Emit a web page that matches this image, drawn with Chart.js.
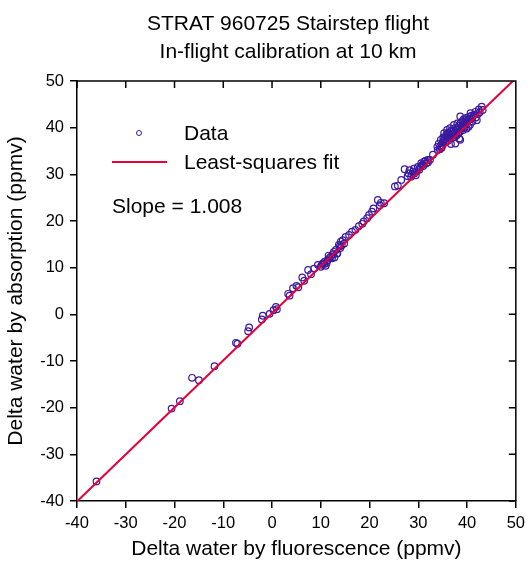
<!DOCTYPE html>
<html>
<head>
<meta charset="utf-8">
<script src="https://cdn.jsdelivr.net/npm/chart.js@4/dist/chart.umd.min.js"></script>
<style>
  body { margin: 0; background: #fff; }
</style>
</head>
<body>
<canvas id="calib" width="531" height="562"></canvas>
<script>
var titleLines = ['STRAT 960725 Stairstep flight', 'In-flight calibration at 10 km'];
var xTitle = 'Delta water by fluorescence (ppmv)';
var yTitle = 'Delta water by absorption (ppmv)';
var slopeText = 'Slope = 1.008';

// ppmv
var fluorescence = [-36.0, -20.6, -18.9, -16.4, -15.0, -11.8, -7.4, -7.1, -4.9, -4.7, -2.1, -1.9, -0.5, 0.3, 0.8, 1.0,
    3.3, 3.6, 4.3, 5.0, 5.4, 6.2, 6.6, 7.4, 8.0, 8.6, 9.4, 10.0, 10.4, 10.7, 11.0, 11.4, 11.8, 12.1, 12.5, 12.8,
    13.1, 13.4, 13.7, 14.0, 14.1, 14.5, 14.8, 15.1, 15.8, 16.4, 17.1, 17.8, 18.5, 18.8, 19.5, 19.9, 20.5, 20.8,
    21.7, 22.3, 22.1, 23.0,
    25.2, 25.8, 26.5, 27.2, 27.8, 28.2, 28.5, 28.9, 29.2, 29.5, 29.9, 30.2, 30.6, 31.0, 31.2, 31.6, 31.9, 32.4, 33.0,
    33.9, 34.2, 34.4, 34.6, 34.9, 35.1, 35.3, 35.5, 35.7, 35.9, 36.1, 36.3, 36.5, 36.7, 36.9, 37.1, 37.3, 37.5,
    37.6, 37.8, 38.0, 38.2, 38.4, 38.6, 38.6, 38.8, 39.0, 39.2, 39.4, 39.6, 39.8, 40.0, 40.3, 40.5, 40.7, 41.0,
    41.3, 41.7, 42.0, 42.4, 43.0, 43.2,
    34.0, 34.5, 34.8, 35.0, 35.2, 35.4, 35.6, 35.8, 36.0, 36.2, 36.4, 36.6, 36.8, 37.0, 37.2, 37.4, 37.7, 37.9,
    38.1, 38.3, 38.5, 38.7, 38.9, 39.1, 39.3, 39.5, 39.7, 39.9, 40.1, 40.4, 40.6, 40.8, 41.1, 41.5, 41.8, 42.2, 42.6,
    10.2, 10.8, 11.2, 11.6, 12.3, 12.7, 13.3, 13.9, 14.3,
    28.0, 28.7, 29.1, 29.7, 30.4, 30.8, 31.4, 32.0];
var absorption = [-35.8, -20.2, -18.6, -13.6, -14.1, -11.1, -6.1, -6.3, -3.6, -2.8, -1.1, -0.3, 0.1, 0.9, 1.6, 1.1,
    4.4, 4.0, 5.6, 6.1, 5.8, 7.9, 7.2, 9.5, 8.6, 9.8, 10.6, 10.2, 10.9, 10.8, 10.4, 11.6, 12.1, 12.4, 12.9, 12.2,
    13.8, 13.1, 14.9, 14.2, 15.6, 15.9, 15.2, 16.6, 17.0, 17.7, 18.1, 18.9, 19.4, 19.9, 20.6, 21.3, 22.0, 22.7,
    24.5, 23.9, 23.4, 23.8,
    27.4, 27.6, 28.8, 31.1, 29.6, 30.9, 29.5, 30.6, 30.2, 29.8, 31.6, 31.0, 32.4, 31.8, 32.7, 32.3, 33.1, 33.1, 34.2,
    35.9, 36.6, 35.4, 37.4, 36.2, 37.9, 38.8, 36.8, 38.1, 39.5, 37.2, 38.6, 39.9, 36.5, 38.2, 39.2, 40.6, 38.0,
    36.6, 39.6, 40.9, 38.9, 37.7, 37.4, 42.4, 40.2, 41.4, 39.5, 40.7, 41.6, 42.1, 40.8, 40.2, 41.9, 43.1, 42.0,
    42.6, 43.4, 41.6, 43.9, 44.5, 43.8,
    35.2, 36.0, 35.7, 36.9, 37.3, 37.6, 37.0, 38.6, 38.0, 39.0, 37.8, 38.4, 39.4, 38.6, 37.9, 39.0, 40.0, 38.4,
    39.7, 40.4, 39.1, 41.0, 39.9, 40.3, 41.8, 40.0, 41.1, 39.8, 41.5, 42.3, 40.6, 42.5, 41.3, 42.8, 42.2, 42.9, 43.3,
    10.6, 11.3, 11.0, 12.6, 12.0, 13.4, 13.0, 14.6, 14.8,
    30.2, 30.0, 31.2, 30.7, 31.5, 32.0, 32.9, 32.6];

// least-squares fit end points
var fitX = [-40, 50];
var fitY = [-40.1, 50.6];

var axisMin = -40, axisMax = 50, axisStep = 10;

var dataPoints = fluorescence.map(function (v, i) { return { x: v, y: absorption[i] }; });
var fitPoints = fitX.map(function (v, i) { return { x: v, y: fitY[i] }; });

var markerColor = '#3a1a9e';
var fitColor = '#e5003c';
var tickFont = { family: "'Liberation Sans', Arial, sans-serif", size: 16.5 };
var textFont = "21px 'Liberation Sans', Arial, sans-serif";

var framePlugin = {
    id: 'frame',
    afterDraw: function (chart) {
        var ctx = chart.ctx, a = chart.chartArea;
        var xs = chart.scales.x, ys = chart.scales.y;
        ctx.save();
        // top / right box with inward ticks
        ctx.strokeStyle = '#000';
        ctx.lineWidth = 1.5;
        ctx.beginPath();
        ctx.moveTo(a.left, a.top);
        ctx.lineTo(a.right, a.top);
        ctx.lineTo(a.right, a.bottom);
        xs.ticks.forEach(function (t) {
            var px = xs.getPixelForValue(t.value);
            ctx.moveTo(px, a.top);
            ctx.lineTo(px, a.top + 7);
        });
        ys.ticks.forEach(function (t) {
            var py = ys.getPixelForValue(t.value);
            ctx.moveTo(a.right, py);
            ctx.lineTo(a.right - 7, py);
        });
        ctx.stroke();

        // title
        ctx.fillStyle = '#000';
        ctx.font = textFont;
        ctx.textAlign = 'center';
        ctx.textBaseline = 'middle';
        ctx.fillText(titleLines[0], 288, 24);
        ctx.fillText(titleLines[1], 288, 52);

        // legend inside the plot
        var lx = a.left + 35, ly = a.top + 52;
        ctx.strokeStyle = markerColor;
        ctx.lineWidth = 1;
        ctx.beginPath();
        ctx.arc(lx + 27, ly, 2.5, 0, Math.PI * 2);
        ctx.stroke();
        ctx.strokeStyle = fitColor;
        ctx.lineWidth = 1.8;
        ctx.beginPath();
        ctx.moveTo(lx, ly + 29);
        ctx.lineTo(lx + 55, ly + 29);
        ctx.stroke();
        ctx.textAlign = 'left';
        ctx.fillText(chart.data.datasets[0].label, lx + 72, ly + 1);
        ctx.fillText(chart.data.datasets[1].label, lx + 72, ly + 30);
        ctx.fillText(slopeText, lx, ly + 74);
        ctx.restore();
    }
};

var axisGrid = { drawOnChartArea: false, drawTicks: true, tickLength: 7, color: '#000', lineWidth: 1.5 };
var axisBorder = { display: true, color: '#000', width: 1.5 };

new Chart(document.getElementById('calib').getContext('2d'), {
    type: 'scatter',
    data: {
        datasets: [
            {
                label: 'Data',
                data: dataPoints,
                pointStyle: 'circle',
                pointRadius: 3.3,
                pointBorderWidth: 1.2,
                pointBorderColor: markerColor,
                pointBackgroundColor: 'rgba(0,0,0,0)',
                order: 2
            },
            {
                label: 'Least-squares fit',
                data: fitPoints,
                showLine: true,
                borderColor: fitColor,
                borderWidth: 2,
                pointRadius: 0,
                order: 1
            }
        ]
    },
    options: {
        responsive: false,
        animation: false,
        layout: { padding: { top: 81, right: 8, left: 0, bottom: 0 } },
        plugins: {
            legend: { display: false },
            tooltip: { enabled: false },
            title: { display: false }
        },
        scales: {
            x: {
                type: 'linear',
                min: axisMin,
                max: axisMax,
                ticks: { stepSize: axisStep, color: '#000', font: tickFont, padding: 6, maxRotation: 0 },
                grid: axisGrid,
                border: axisBorder,
                title: { display: true, text: xTitle, color: '#000', font: { family: tickFont.family, size: 21 }, padding: { top: 0, bottom: 0 } },
                afterFit: function (s) { s.height = 61; }
            },
            y: {
                type: 'linear',
                min: axisMin,
                max: axisMax,
                ticks: { stepSize: axisStep, color: '#000', font: tickFont, padding: 6 },
                grid: axisGrid,
                border: axisBorder,
                title: { display: true, text: yTitle, color: '#000', font: { family: tickFont.family, size: 21 }, padding: { top: 4, bottom: 0 } },
                afterFit: function (s) { s.width = 77; }
            }
        }
    },
    plugins: [framePlugin]
});
</script>
</body>
</html>
